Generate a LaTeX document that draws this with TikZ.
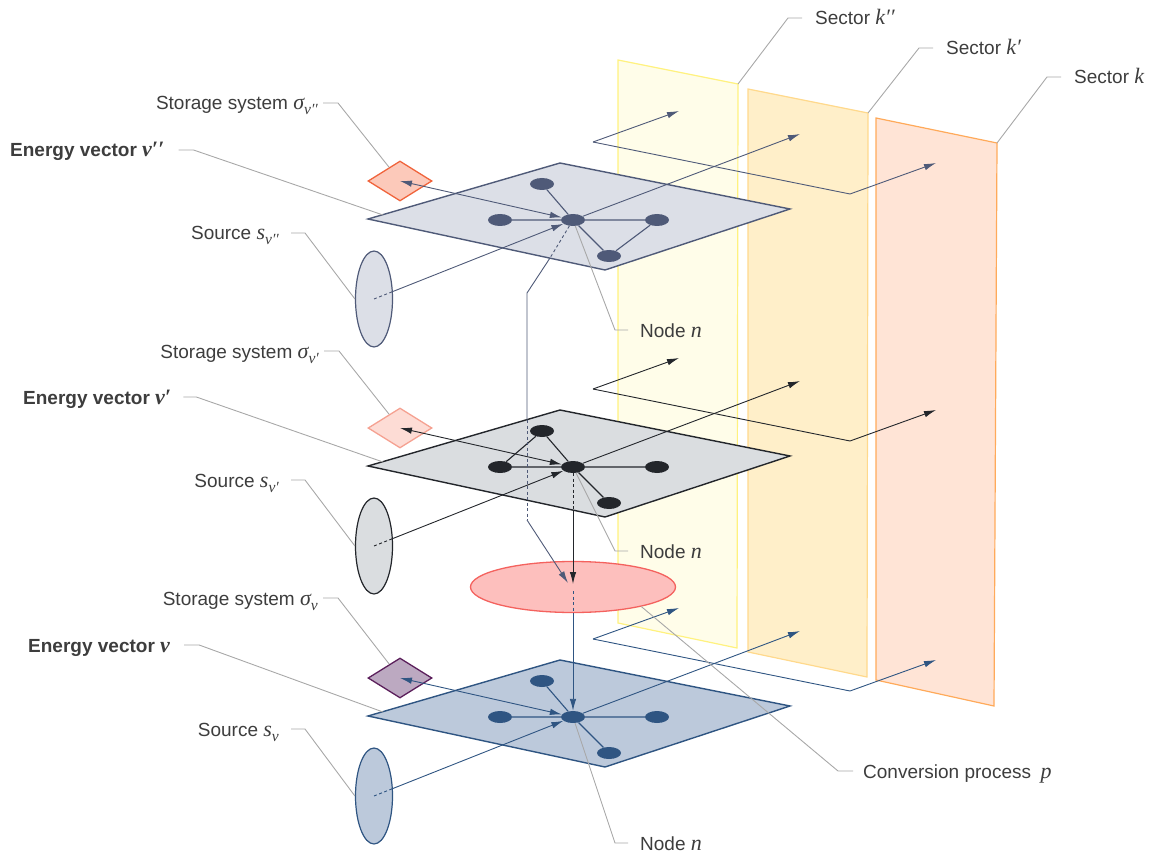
\documentclass[tikz,border=0pt]{standalone}
\usepackage{fontspec}
\setmainfont{Liberation Sans}
\newfontfamily\symfont{Liberation Serif}
\usetikzlibrary{shapes.geometric,arrows.meta}

% italic symbols and their subscripts
\newcommand{\vsym}[1]{{\fontsize{22}{23}\selectfont\symfont\itshape #1}}
\newcommand{\vsub}[1]{\raisebox{-5pt}{\fontsize{15.5}{16}\selectfont\symfont\itshape #1}}

% text and leader lines
\definecolor{txt}{HTML}{3D3D3D}
\definecolor{leader}{HTML}{A8A8A8}
% energy vector layers
\definecolor{slateL}{HTML}{DCDFE7}
\definecolor{slateD}{HTML}{4F5A78}
\definecolor{greyL}{HTML}{DADDE0}
\definecolor{greyD}{HTML}{23262B}
\definecolor{blueL}{HTML}{BCC9DB}
\definecolor{blueD}{HTML}{2F5582}
% storage systems
\definecolor{stoAfill}{HTML}{FCC9BA}
\definecolor{stoAline}{HTML}{F0643C}
\definecolor{stoBfill}{HTML}{FDDCD5}
\definecolor{stoBline}{HTML}{F5A191}
\definecolor{stoCfill}{HTML}{BCA9C1}
\definecolor{stoCline}{HTML}{5B1F5B}
% conversion process
\definecolor{convFill}{HTML}{FDBFBD}
\definecolor{convLine}{HTML}{F4625E}
% sectors
\definecolor{secAfill}{HTML}{FFFDE9}
\definecolor{secAline}{HTML}{FFF27F}
\definecolor{secBfill}{HTML}{FFEFC9}
\definecolor{secBline}{HTML}{FFD98C}
\definecolor{secCfill}{HTML}{FFE4D6}
\definecolor{secCline}{HTML}{FFAA5A}

\tikzset{
  lbl/.style={text=txt, font=\fontsize{19}{23}\selectfont, inner sep=0pt},
  lblb/.style={text=txt, font=\fontsize{19}{23}\selectfont\bfseries, inner sep=0pt},
  lead/.style={draw=leader, line width=0.9pt},
  gnode/.style={ellipse, minimum width=24pt, minimum height=12pt, inner sep=0pt, draw=none},
  plane/.style={line width=1.4pt, line join=miter},
  sto/.style={diamond, minimum width=64pt, minimum height=40pt, inner sep=0pt, line width=1.3pt},
  src/.style={ellipse, minimum width=37pt, minimum height=96pt, inner sep=0pt, line width=1.2pt},
  link/.style={line width=1.1pt},
  wire/.style={line width=0.9pt},
  flow/.style={wire, -{Latex[length=12pt,width=6.5pt]}},
  flowboth/.style={wire, {Latex[length=12pt,width=6.5pt]}-{Latex[length=12pt,width=6.5pt]}},
  hidden/.style={wire, dash pattern=on 3pt off 2.5pt},
  sector/.style={line width=1.2pt, line join=miter},
}

% One energy-vector layer: plane, network nodes, storage, source and sector flows.
% #1 name prefix, #2 vertical offset, #3 plane fill, #4 stroke, #5 storage fill, #6 storage line
\newcommand{\energylayer}[6]{%
  \begin{scope}[shift={(0,#2)}]
    \coordinate (#1pw) at (368,219);
    \coordinate (#1pn) at (560,163);
    \coordinate (#1pe) at (790,209);
    \coordinate (#1ps) at (605,270);
    \draw[plane, fill=#3, draw=#4] (#1pw) -- (#1pn) -- (#1pe) -- (#1ps) -- cycle;
    \node[gnode, fill=#4] (#1c) at (573,220) {};
    \node[gnode, fill=#4] (#1w) at (500,220) {};
    \node[gnode, fill=#4] (#1n) at (542,184) {};
    \node[gnode, fill=#4] (#1e) at (657,220) {};
    \node[gnode, fill=#4] (#1s) at (609,256) {};
    \draw[link, draw=#4] (#1c) -- (#1w) (#1c) -- (#1n) (#1c) -- (#1e) (#1c) -- (#1s);
    \node[sto, fill=#5, draw=#6] (#1sto) at (400,181) {};
    \node[src, fill=#3, draw=#4] (#1src) at (374,299) {};
    \draw[flowboth, color=#4] (#1sto.center) -- (#1c);
    \draw[flow, color=#4] (#1src) -- (#1c) coordinate[pos=0] (#1srcx);
    \draw[hidden, color=#4] (#1src.center) -- (#1srcx);
    \coordinate (#1kB) at (800,134);
    \coordinate (#1fork) at (593,142);
    \coordinate (#1kA) at (679,111);
    \coordinate (#1bend) at (850,194);
    \coordinate (#1kC) at (936,163);
    \draw[flow, color=#4] (#1c) -- (#1kB);
    \draw[flow, color=#4] (#1fork) -- (#1kA);
    \draw[flow, color=#4, line join=miter] (#1fork) -- (#1bend) -- (#1kC);
    \coordinate (#1edge) at (383,215);
  \end{scope}}

\begin{document}
\begin{tikzpicture}[x=1pt, y=-1pt]
\useasboundingbox (0,0) rectangle (1154,853);

% sectors
\coordinate (kA1) at (618,60);  \coordinate (kA2) at (738,84);
\coordinate (kA3) at (737,648); \coordinate (kA4) at (618,623);
\coordinate (kB1) at (748,89);  \coordinate (kB2) at (868,113);
\coordinate (kB3) at (867,677); \coordinate (kB4) at (748,652);
\coordinate (kC1) at (876,118); \coordinate (kC2) at (997,143);
\coordinate (kC3) at (994,706); \coordinate (kC4) at (876,680);
\draw[sector, fill=secAfill, draw=secAline] (kA1) -- (kA2) -- (kA3) -- (kA4) -- cycle;
\draw[sector, fill=secBfill, draw=secBline] (kB1) -- (kB2) -- (kB3) -- (kB4) -- cycle;
\draw[sector, fill=secCfill, draw=secCline] (kC1) -- (kC2) -- (kC3) -- (kC4) -- cycle;

% conversion process
\node[ellipse, minimum width=205pt, minimum height=51pt, inner sep=0pt,
      fill=convFill, draw=convLine, line width=1.3pt] (conv) at (573,587) {};

% energy vector layers
\energylayer{t}{0}{slateL}{slateD}{stoAfill}{stoAline}
\draw[link, slateD] (te) -- (ts);
\energylayer{m}{247}{greyL}{greyD}{stoBfill}{stoBline}
\draw[link, greyD] (mw) -- (mn);
\energylayer{b}{497}{blueL}{blueD}{stoCfill}{stoCline}

% flows into and out of the conversion process
\coordinate (tA) at (550,258);
\coordinate (tB) at (527,293);
\coordinate (tC) at (527,420);
\coordinate (tD) at (527,520);
\coordinate (convInA) at (568,583);
\draw[hidden, slateD] (tc) -- (tA);
\draw[wire, slateD, line join=miter] (tA) -- (tB) -- (tC);
\draw[hidden, slateD] (tC) -- (tD);
\draw[flow, slateD] (tD) -- (convInA);

\coordinate (mX) at (573,510);
\coordinate (convInB) at (573,584);
\draw[hidden, greyD] (mc) -- (mX);
\draw[flow, greyD] (mX) -- (convInB);

\coordinate (convOut) at (573,591);
\draw[hidden, blueD] (convOut) -- (conv.south);
\draw[flow, blueD] (conv.south) -- (bc);

% sector labels
\node[lbl, anchor=base west] (kAL) at (815,25) {Sector \vsym{k′′}};
\node[lbl, anchor=base west] (kBL) at (946,55) {Sector \vsym{k′}};
\node[lbl, anchor=base west] (kCL) at (1074,84) {Sector \vsym{k}};
\draw[lead] ([xshift=-13pt,yshift=7pt]kAL.base west) -- ++(-14,0) -- (kA2);
\draw[lead] ([xshift=-13pt,yshift=7pt]kBL.base west) -- ++(-14,0) -- (kB2);
\draw[lead] ([xshift=-13pt,yshift=7pt]kCL.base west) -- ++(-14,0) -- (kC2);

% labels of the top layer
\node[lbl, anchor=base east] (tStoL) at (318,110) {Storage system \vsym{σ}\vsub{v′′}};
\node[lblb, anchor=base west] (tEnL) at (10,157) {Energy vector \vsym{v′′}};
\node[lbl, anchor=base east] (tSrcL) at (279,240) {Source \vsym{s}\vsub{v′′}};
\node[lbl, anchor=base west] (tNL) at (640,337) {Node \vsym{n}};
\draw[lead] ([xshift=5pt,yshift=7pt]tStoL.base east) -- ++(15,0) -- (tsto);
\draw[lead] ([xshift=14pt,yshift=7pt]tEnL.base east) -- ++(15,0) -- (tedge);
\draw[lead] ([xshift=12pt,yshift=7pt]tSrcL.base east) -- ++(14,0) -- (tsrc.west);
\draw[lead] ([xshift=-12pt,yshift=7pt]tNL.base west) -- ++(-13,0) -- (tc);

% labels of the middle layer
\node[lbl, anchor=base east] (mStoL) at (319,358) {Storage system \vsym{σ}\vsub{v′}};
\node[lblb, anchor=base west] (mEnL) at (23,404) {Energy vector \vsym{v′}};
\node[lbl, anchor=base east] (mSrcL) at (279,487) {Source \vsym{s}\vsub{v′}};
\node[lbl, anchor=base west] (mNL) at (640,558) {Node \vsym{n}};
\draw[lead] ([xshift=5pt,yshift=7pt]mStoL.base east) -- ++(15,0) -- (msto);
\draw[lead] ([xshift=12pt,yshift=7pt]mEnL.base east) -- ++(13,0) -- (medge);
\draw[lead] ([xshift=12pt,yshift=7pt]mSrcL.base east) -- ++(14,0) -- (msrc.west);
\draw[lead] ([xshift=-12pt,yshift=7pt]mNL.base west) -- ++(-13,0) -- (mc);

% labels of the bottom layer
\node[lbl, anchor=base east] (bStoL) at (318,605) {Storage system \vsym{σ}\vsub{v}};
\node[lblb, anchor=base west] (bEnL) at (28,652) {Energy vector \vsym{v}};
\node[lbl, anchor=base east] (bSrcL) at (279,736) {Source \vsym{s}\vsub{v}};
\node[lbl, anchor=base west] (bNL) at (640,850) {Node \vsym{n}};
\draw[lead] ([xshift=5pt,yshift=7pt]bStoL.base east) -- ++(15,0) -- (bsto);
\draw[lead] ([xshift=14pt,yshift=7pt]bEnL.base east) -- ++(15,0) -- (bedge);
\draw[lead] ([xshift=12pt,yshift=7pt]bSrcL.base east) -- ++(14,0) -- (bsrc.west);
\draw[lead] ([xshift=-12pt,yshift=7pt]bNL.base west) -- ++(-13,0) -- (bc);

% conversion process label
\node[lbl, anchor=base west] (convL) at (863,778) {Conversion process\enspace\vsym{p}};
\draw[lead] ([xshift=-10pt,yshift=7pt]convL.base west) -- ++(-15,0) -- (conv.-16);
\end{tikzpicture}
\end{document}
